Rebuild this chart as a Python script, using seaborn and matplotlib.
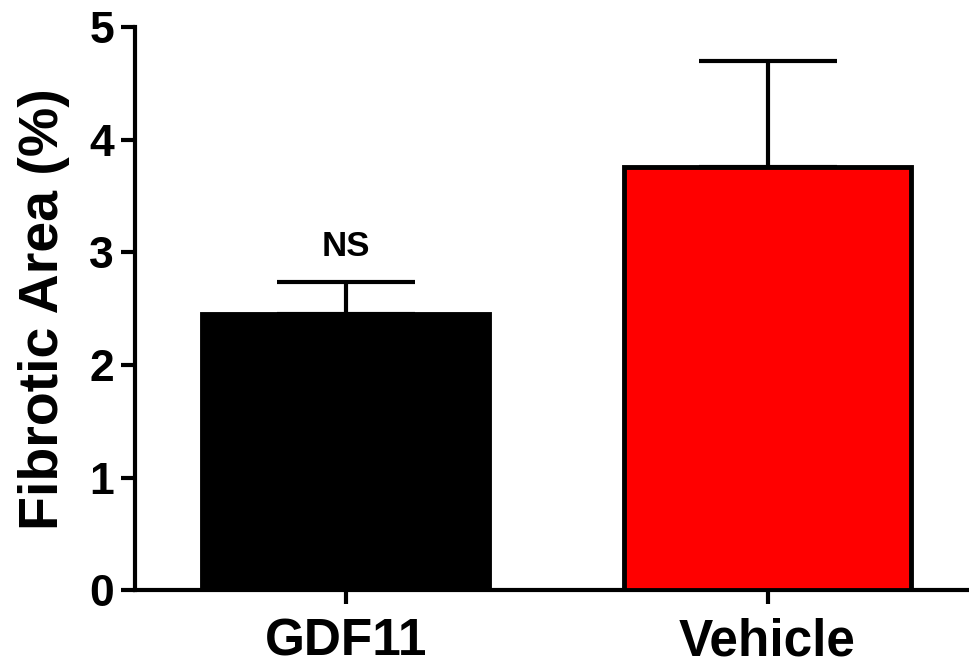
import matplotlib
matplotlib.use("Agg")
import matplotlib.pyplot as plt
import seaborn as sns
import pandas as pd

# 데이터
groups = ["GDF11", "Vehicle"]
means = [2.45, 3.76]
sems = [0.29, 0.94]
bar_colors = ["#000000", "#ff0000"]

sns.set_style("ticks")
plt.rcParams["font.family"] = ["Liberation Sans", "DejaVu Sans"]
plt.rcParams["font.weight"] = "bold"
plt.rcParams["text.color"] = "black"
plt.rcParams["axes.labelcolor"] = "black"
plt.rcParams["axes.edgecolor"] = "black"
plt.rcParams["xtick.color"] = "black"
plt.rcParams["ytick.color"] = "black"

df = pd.DataFrame({"group": groups, "value": means})

fig = plt.figure(figsize=(9.7, 6.66), dpi=100)
ax = fig.add_axes([0.139, 0.114, 0.861, 0.845])

sns.barplot(data=df, x="group", y="value", hue="group", palette=bar_colors,
            saturation=1, width=0.68, edgecolor="black", linewidth=3.5,
            legend=False, ax=ax, zorder=3)

# 위쪽 방향 에러바만
ax.errorbar(range(len(groups)), means, yerr=[[0] * len(groups), sems], fmt="none",
            ecolor="black", elinewidth=3, capsize=50, capthick=3, zorder=2)

ax.text(0, means[0] + sems[0] + 0.17, "NS", ha="center", va="bottom",
        fontsize=25, fontweight="bold")

ax.set_ylim(0, 5)
ax.set_xlim(-0.5, 1.48)
ax.set_yticks([0, 1, 2, 3, 4, 5])
ax.set_xlabel("")
ax.set_ylabel("Fibrotic Area (%)", fontsize=40, fontweight="bold", labelpad=14)

for s in ["top", "right"]:
    ax.spines[s].set_visible(False)
for s in ["left", "bottom"]:
    ax.spines[s].set_linewidth(3)

ax.tick_params(axis="y", labelsize=32, width=3, length=10, pad=5)
ax.tick_params(axis="x", labelsize=37, width=3, length=10, pad=10)
for lab in ax.get_xticklabels() + ax.get_yticklabels():
    lab.set_fontweight("bold")

fig.savefig("out.png", dpi=100)
